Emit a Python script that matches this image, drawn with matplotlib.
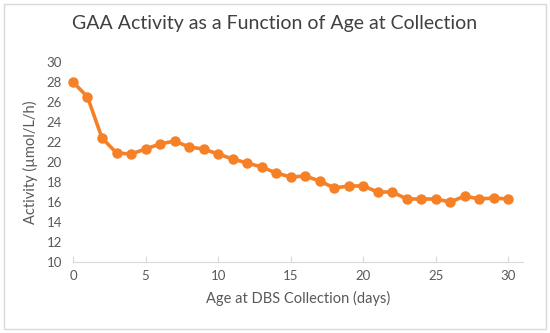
import numpy as np
import matplotlib.pyplot as plt
from matplotlib.patches import Rectangle

# Data
days = list(range(0, 31))
activity = [28.0, 26.5, 22.4, 20.9, 20.8, 21.3, 21.8, 22.1, 21.5, 21.3,
            20.8, 20.3, 19.9, 19.5, 18.9, 18.5, 18.6, 18.1, 17.4, 17.6,
            17.6, 17.0, 17.0, 16.3, 16.3, 16.3, 16.0, 16.6, 16.3, 16.4,
            16.3]
x_ticks = [0, 5, 10, 15, 20, 25, 30]
y_ticks = list(range(10, 31, 2))

plt.rcParams['font.family'] = ['Lato', 'DejaVu Sans']
text_col = '#595959'
orange = '#F58025'

fig = plt.figure(figsize=(5.5, 3.33), dpi=100)
ax = fig.add_axes([0.1327, 0.2132, 0.818, 0.6006])

ax.plot(days, activity, color=orange, linewidth=2.6, marker='o',
        markersize=6.5, markerfacecolor=orange, markeredgecolor=orange,
        clip_on=False, zorder=3)

ax.set_xlim(0, 31)
ax.set_ylim(10, 30)
ax.set_xticks(x_ticks)
ax.set_yticks(y_ticks)
ax.tick_params(axis='y', length=0, labelsize=9.5, colors=text_col, pad=8)
ax.tick_params(axis='x', length=4, direction='in', color='#D9D9D9',
               labelsize=9.5, labelcolor=text_col, pad=6)

for side in ['top', 'right', 'left']:
    ax.spines[side].set_visible(False)
ax.spines['bottom'].set_color('#D9D9D9')

ax.set_xlabel('Age at DBS Collection (days)', fontsize=10.5, color=text_col, labelpad=6)
ax.set_ylabel('Activity (µmol/L/h)', fontsize=10.5, color=text_col, labelpad=6)
fig.suptitle('GAA Activity as a Function of Age at Collection', fontsize=14,
             color='#404040', y=0.955)

# light frame around the chart
fig.patches.append(Rectangle((0.008, 0.012), 0.984, 0.975, transform=fig.transFigure,
                             fill=False, edgecolor='#D9D9D9', linewidth=1))

fig.savefig('out.png', dpi=100)
